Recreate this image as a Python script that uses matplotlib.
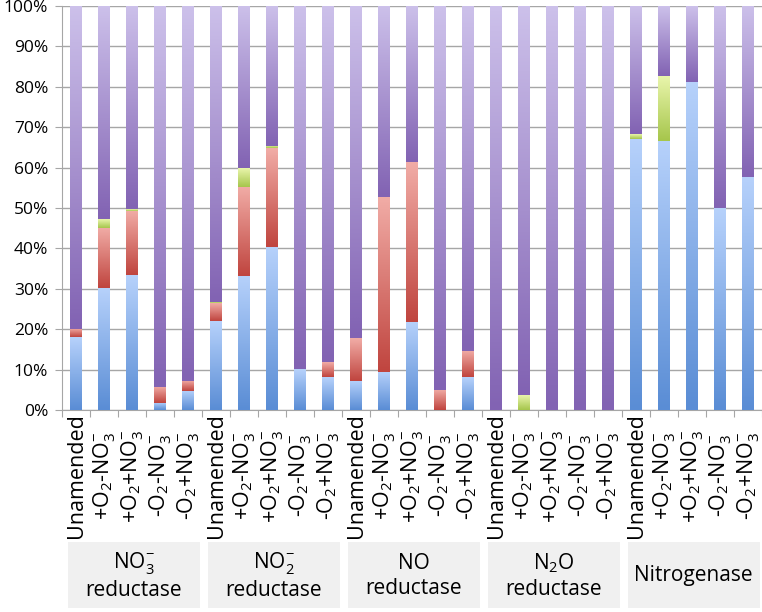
import numpy as np
import matplotlib
matplotlib.use("Agg")
import matplotlib.pyplot as plt
from matplotlib.colors import LinearSegmentedColormap
from matplotlib.patches import Rectangle
import matplotlib.transforms as mtransforms

plt.rcParams["font.family"] = ["Open Sans", "DejaVu Sans"]
plt.rcParams["mathtext.fontset"] = "custom"
plt.rcParams["mathtext.rm"] = "Open Sans"
plt.rcParams["mathtext.default"] = "regular"

# ---------------------------------------------------------------------------
# Data (percent of total)
# ---------------------------------------------------------------------------
groups = ["NO$_3^{-}$\nreductase", "NO$_2^{-}$\nreductase", "NO\nreductase",
          "N$_2$O\nreductase", "Nitrogenase"]
treatments = ["Unamended", "+O$_2$-NO$_3^{-}$", "+O$_2$+NO$_3^{-}$",
              "-O$_2$-NO$_3^{-}$", "-O$_2$+NO$_3^{-}$"]

blue = [18.0, 30.1, 33.4, 1.8, 4.8,
        22.0, 33.2, 40.4, 10.1, 8.1,
        7.3, 9.5, 21.9, 0.0, 8.1,
        0.0, 0.0, 0.0, 0.0, 0.0,
        67.2, 66.7, 81.3, 49.9, 57.6]
red = [2.0, 15.0, 15.9, 4.0, 2.5,
       4.4, 22.1, 24.4, 0.0, 3.7,
       10.4, 43.1, 39.4, 5.0, 6.6,
       0.0, 0.0, 0.0, 0.0, 0.0,
       0.0, 0.0, 0.0, 0.0, 0.0]
green = [0.0, 2.1, 0.4, 0.0, 0.0,
         0.3, 4.5, 0.5, 0.0, 0.0,
         0.0, 0.0, 0.0, 0.0, 0.0,
         0.0, 3.7, 0.0, 0.0, 0.0,
         1.1, 16.0, 0.0, 0.0, 0.0]

series = [blue, red, green]
purple = [100.0 - sum(v) for v in zip(*series)]
series.append(purple)

# bottom (dark) -> top (light) for each series
cmaps = [
    LinearSegmentedColormap.from_list("b", ["#5a8dd5", "#b6d1fb"]),
    LinearSegmentedColormap.from_list("r", ["#c0453f", "#f1aca6"]),
    LinearSegmentedColormap.from_list("g", ["#a6c64c", "#e9f5ab"]),
    LinearSegmentedColormap.from_list("p", ["#8263b3", "#ccc0ea"]),
]

n = len(blue)
x = np.arange(n)
width = 0.4
grad = np.linspace(0, 1, 64).reshape(-1, 1)

fig = plt.figure(figsize=(7.62, 6.12), dpi=100)
ax = fig.add_axes([62 / 762, 1 - 410 / 612, 700 / 762, 404 / 612])

bottom = np.zeros(n)
for vals, cmap in zip(series, cmaps):
    for i in range(n):
        h = vals[i]
        if h <= 0:
            continue
        ax.imshow(grad, cmap=cmap, origin="lower", aspect="auto",
                  extent=[x[i] - width / 2, x[i] + width / 2, bottom[i], bottom[i] + h],
                  zorder=3, interpolation="bilinear")
        bottom[i] += h

ax.set_xlim(-0.5, n - 0.5)
ax.set_ylim(0, 100)
ax.set_yticks(np.arange(0, 101, 10))
ax.set_yticklabels([f"{v}%" for v in range(0, 101, 10)], fontsize=12.5)
ax.yaxis.grid(True, color="#a6a6a6", linewidth=1.0, zorder=0)
ax.set_axisbelow(True)
ax.tick_params(axis="y", length=5, color="#a6a6a6", pad=5)

ax.set_xticks(np.arange(-0.5, n, 1.0))
ax.set_xticklabels([])
ax.tick_params(axis="x", length=5, color="#a6a6a6", direction="out")

for s in ["top", "right"]:
    ax.spines[s].set_visible(False)
for s in ["left", "bottom"]:
    ax.spines[s].set_color("#a6a6a6")

# rotated treatment labels, centred in the band under the axis
trans = mtransforms.blended_transform_factory(ax.transData, fig.transFigure)
for i in range(n):
    ax.text(x[i], 1 - 476 / 612, treatments[i % 5], rotation=90,
            ha="center", va="center", fontsize=15.5, transform=trans)

# group boxes
for g, name in enumerate(groups):
    x0 = g * 5 - 0.5 + 0.2
    x1 = g * 5 + 4.5 - 0.08
    box = Rectangle((x0, 1 - 608 / 612), x1 - x0, 66 / 612, transform=trans,
                    facecolor="#f0f0f0", edgecolor="none", clip_on=False)
    ax.add_patch(box)
    ax.text((x0 + x1) / 2, 1 - 576 / 612, name, ha="center", va="center",
            fontsize=15, transform=trans, linespacing=1.25)

fig.savefig("out.png", dpi=100)
